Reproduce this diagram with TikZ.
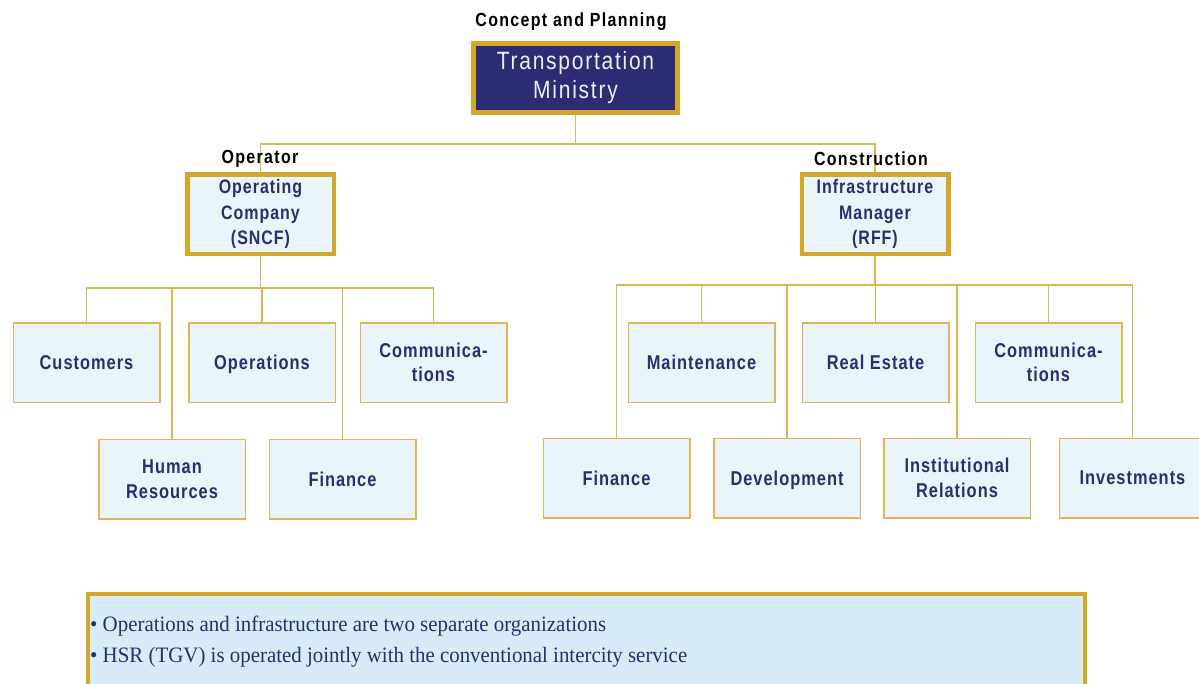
\documentclass[tikz,border=0pt]{standalone}
\usepackage{fontspec}
\setmainfont{Liberation Sans}
\newfontfamily\cf[FakeStretch=0.82,LetterSpace=5]{Liberation Sans}
\newfontfamily\cfl[FakeStretch=0.84,LetterSpace=7]{Liberation Sans}
\newfontfamily\nf[FakeStretch=0.95]{Liberation Serif}
\definecolor{goldT}{HTML}{D4A62A}
\definecolor{goldL}{HTML}{E0B654}
\definecolor{navyF}{HTML}{2B2C73}
\definecolor{navyT}{HTML}{2B2D6E}
\definecolor{lightF}{HTML}{EAF5FB}
\definecolor{noteF}{HTML}{D6EDF9}
\tikzset{
  head/.style={draw=goldT, line width=4.5pt, fill=lightF, text=navyT, align=center, inner sep=0pt,
    minimum width=146.5pt, minimum height=79.5pt, font=\cf\bfseries\fontsize{19.5}{25.5}\selectfont},
  unit/.style={draw=goldL, line width=1.5pt, fill=lightF, text=navyT, align=center, inner sep=0pt,
    minimum width=146.5pt, minimum height=79.5pt, font=\cf\bfseries\fontsize{20}{24.5}\selectfont},
  lbl/.style={text=black, inner sep=0pt, font=\cfl\bfseries\fontsize{19}{20}\selectfont},
  conn/.style={draw=goldL, line width=1.5pt},
  notetxt/.style={text=navyT, inner sep=0pt, anchor=west, font=\nf\fontsize{22}{23}\selectfont}
}
\begin{document}
\begin{tikzpicture}[x=1pt,y=-1pt]
\useasboundingbox (0,0) rectangle (1199,683);
\clip (0,0) rectangle (1199,683);
\fill[white] (0,0) rectangle (1199,683);
% buses
\coordinate (bus0) at (0,144);
\coordinate (busL) at (0,288);
\coordinate (busR) at (0,285);
% nodes
\node[draw=goldT, line width=5pt, fill=navyF, text=white!92!navyF, align=center, inner sep=0pt,
  minimum width=204pt, minimum height=69pt, font=\cfl\fontsize{25}{29}\selectfont]
  (min) at (575.5,78) {Transportation\\Ministry};
\node[head] (opco) at (260.5,214) {Operating\\Company\\(SNCF)};
\node[head] (infra) at (875,214) {Infrastructure\\Manager\\(RFF)};
% left units
\node[unit] (cust) at (86.5,362.5) {Customers};
\node[unit, text depth=0pt] (ops) at (262,362.5) {Operations};
\node[unit] (comL) at (433.5,362.5) {Communica-\\tions};
\node[unit] (hr) at (172,479) {Human\\Resources};
\node[unit] (finL) at (342.5,479) {Finance};
% right units
\node[unit] (maint) at (701.5,362.5) {Maintenance};
\node[unit] (real) at (875.5,362.5) {Real Estate};
\node[unit] (comR) at (1048.5,362.5) {Communica-\\tions};
\node[unit] (finR) at (616.5,478) {Finance};
\node[unit, text depth=0pt] (dev) at (787,478) {Development};
\node[unit] (inst) at (957,478) {Institutional\\Relations};
\node[unit] (inv) at (1132.5,478) {Investments};
% connectors
\draw[conn] (min.south) -- (min.south |- bus0);
\draw[conn] (opco.north) |- (infra.north |- bus0) -- (infra.north);
\draw[conn] (opco.south) -- (opco.south |- busL);
\draw[conn] (cust.north) |- (comL.north |- busL) -- (comL.north);
\draw[conn] (hr.north) -- (hr.north |- busL);
\draw[conn] (ops.north) -- (ops.north |- busL);
\draw[conn] (finL.north) -- (finL.north |- busL);
\draw[conn] (infra.south) -- (infra.south |- busR);
\draw[conn] (finR.north) |- (inv.north |- busR) -- (inv.north);
\draw[conn] (maint.north) -- (maint.north |- busR);
\draw[conn] (dev.north) -- (dev.north |- busR);
\draw[conn] (real.north) -- (real.north |- busR);
\draw[conn] (inst.north) -- (inst.north |- busR);
\draw[conn] (comR.north) -- (comR.north |- busR);
% labels
\node[lbl] (lconcept) at (571,22) {Concept and Planning};
\node[lbl] (loper) at (260,159) {Operator};
\node[lbl] (lcons) at (871,159) {Construction};
% note box
\node[draw=goldT, line width=4.5pt, fill=noteF, inner sep=0pt, minimum width=997pt, minimum height=120pt]
  (note) at (586.5,654) {};
\node[notetxt] (l1) at (90,626) {• Operations and infrastructure are two separate organizations};
\node[notetxt] (l2) at (90,657) {• HSR (TGV) is operated jointly with the conventional intercity service};
\end{tikzpicture}
\end{document}
